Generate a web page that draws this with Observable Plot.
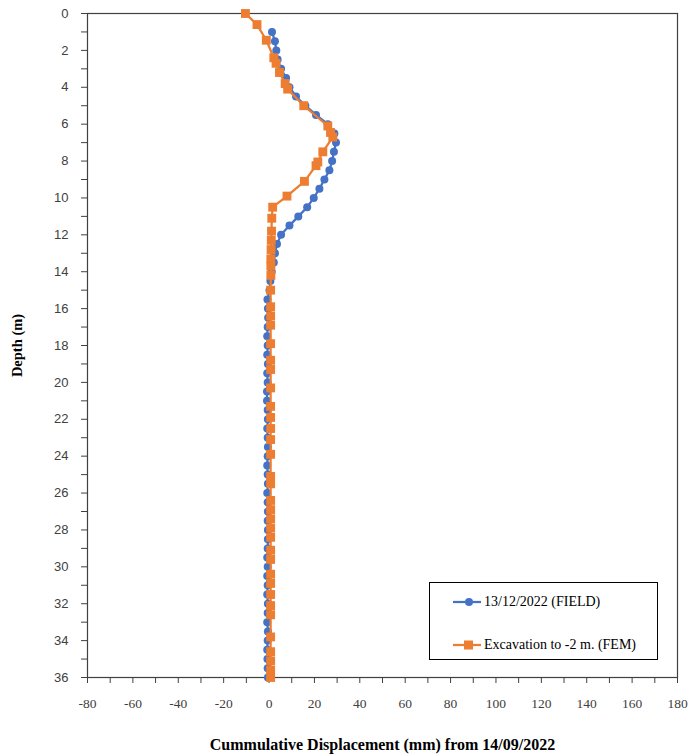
<!DOCTYPE html>
<html>
<head>
<meta charset="utf-8">
<script src="https://cdn.jsdelivr.net/npm/d3@7"></script>
<script src="https://cdn.jsdelivr.net/npm/@observablehq/plot@0.6"></script>
<style>
  html, body { margin: 0; padding: 0; background: #fff; }
  #wrap { position: relative; width: 690px; height: 755px; }
  g[aria-label="x-axis label"] text, g[aria-label="y-axis label"] text {
    font-family: "Liberation Serif", serif !important; font-weight: bold; fill: #000;
  }
  g[aria-label="x-axis label"] text { font-size: 16px !important; }
  g[aria-label="y-axis label"] text { font-size: 14.5px !important; }
  #legend {
    position: absolute; left: 429px; top: 582px; width: 229px; height: 78px;
    border: 1px solid #000; background: #fff; box-sizing: border-box;
    font-family: "Liberation Serif", serif; font-size: 14px; color: #000;
  }
  .row { position: absolute; left: 22px; display: flex; align-items: center; }
  .row svg { margin-right: 2px; }
</style>
</head>
<body>
<div id="wrap"></div>
<script>
// Field measurement (13/12/2022): depth (m) and displacement (mm)
const fieldDepth = [1,1.5,2,2.5,3,3.5,4,4.5,5,5.5,6,6.5,7,7.5,8,8.5,9,9.5,10,10.5,11,11.5,12,12.5,13,13.5,14,14.5,15,15.5,16,16.5,17,17.5,18,18.5,19,19.5,20,20.5,21,21.5,22,22.5,23,23.5,24,24.5,25,25.5,26,26.5,27,27.5,28,28.5,29,29.5,30,30.5,31,31.5,32,32.5,33,33.5,34,34.5,35,35.5,36];
const fieldDisp  = [1.3,2.6,3.2,3.8,5.3,7.5,9.0,11.9,16.0,20.7,25.9,28.8,29.5,28.6,27.8,26.6,24.4,22.2,19.7,16.8,12.9,9.0,5.3,3.5,2.6,2.1,1.2,0.6,0.2,-0.7,-0.5,-0.4,-0.6,-0.8,-0.6,-0.8,-0.5,-0.8,-0.6,-0.9,-0.9,-0.6,-0.5,-0.8,-0.6,-0.5,-0.6,-0.8,-0.6,-0.5,-0.8,-0.6,-0.5,-0.6,-0.5,-0.5,-0.6,-0.8,-0.6,-0.8,-0.6,-0.8,-0.5,-0.6,-0.8,-0.5,-0.6,-0.8,-0.7,-0.6,-0.5];

// FEM result (Excavation to -2 m.)
const femDepth = [0,0.6,1.45,2.4,2.7,3.2,3.8,4.1,5.0,6.1,6.45,6.7,7.5,8.05,8.25,9.1,9.9,10.5,11.1,11.8,12.3,12.8,13.3,13.7,14.2,15.0,15.9,16.4,16.9,17.9,18.8,19.3,20.3,21.3,21.9,22.5,23.1,23.9,25.1,25.5,26.4,26.9,27.4,27.9,28.4,29.1,29.6,30.4,30.9,31.5,32.1,32.6,33.8,34.6,35.1,35.6,36.0];
const femDisp  = [-10.4,-5.3,-1.2,2.1,3.1,4.6,7.1,8.2,15.3,25.9,27.1,28.1,23.7,21.5,20.7,15.6,7.9,1.6,1.2,1.1,1.0,0.9,0.8,0.8,0.8,0.7,0.7,0.7,0.7,0.7,0.7,0.7,0.7,0.7,0.7,0.7,0.7,0.7,0.7,0.7,0.7,0.7,0.7,0.7,0.7,0.7,0.7,0.7,0.7,0.7,0.7,0.7,0.7,0.7,0.7,0.7,0.7];

const xTicks = d3.range(-80, 181, 10);
const yTicks = d3.range(0, 37, 1);

const field = fieldDepth.map((d, i) => ({depth: d, disp: fieldDisp[i]}));
const fem = femDepth.map((d, i) => ({depth: d, disp: femDisp[i]}));

const BLUE = "#4472C4", ORANGE = "#ED7D31";

const chart = Plot.plot({
  width: 690,
  height: 755,
  marginLeft: 87,
  marginRight: 13,
  marginTop: 13,
  marginBottom: 78,
  style: {fontFamily: "Liberation Sans, sans-serif", fontSize: "12px", color: "#404040", background: "#fff"},
  x: {domain: [-80, 180]},
  y: {domain: [0, 36], reverse: true},
  marks: [
    Plot.frame({stroke: "#404040", strokeWidth: 1.2}),
    Plot.axisX({
      ticks: xTicks,
      tickFormat: d => d % 20 === 0 ? String(d) : "",
      tickSize: 6, tickPadding: 15, fill: "#404040", stroke: "#404040",
      fontSize: 13.5, fontFamily: "Liberation Serif, serif",
      label: "Cummulative Displacement (mm) from 14/09/2022",
      labelAnchor: "center", labelOffset: 72, labelArrow: "none"
    }),
    Plot.axisY({
      ticks: yTicks,
      tickFormat: d => d % 2 === 0 ? String(d) : "",
      tickSize: 6, tickPadding: 13, fill: "#404040", stroke: "#404040",
      fontSize: 13, fontFamily: "Liberation Sans, sans-serif",
      label: "Depth (m)",
      labelAnchor: "center", labelOffset: 76, labelArrow: "none"
    }),
    Plot.line(field, {x: "disp", y: "depth", stroke: BLUE, strokeWidth: 2.25, curve: "linear"}),
    Plot.dot(field, {x: "disp", y: "depth", fill: BLUE, r: 4}),
    Plot.line(fem, {x: "disp", y: "depth", stroke: ORANGE, strokeWidth: 2.25, curve: "linear"}),
    Plot.dot(fem, {x: "disp", y: "depth", fill: ORANGE, symbol: "square", r: 5})
  ]
});

const wrap = document.getElementById("wrap");
wrap.appendChild(chart);

const legend = document.createElement("div");
legend.id = "legend";
legend.innerHTML = `
  <div class="row" style="top:11px">
    <svg width="30" height="12"><line x1="1" y1="6" x2="29" y2="6" stroke="${BLUE}" stroke-width="2.25"/><circle cx="17" cy="6" r="4" fill="${BLUE}"/></svg>
    <span>13/12/2022 (FIELD)</span>
  </div>
  <div class="row" style="top:54px">
    <svg width="30" height="12"><line x1="1" y1="6" x2="29" y2="6" stroke="${ORANGE}" stroke-width="2.25"/><rect x="12" y="1.5" width="9" height="9" fill="${ORANGE}"/></svg>
    <span>Excavation to -2 m. (FEM)</span>
  </div>`;
wrap.appendChild(legend);
</script>
</body>
</html>
